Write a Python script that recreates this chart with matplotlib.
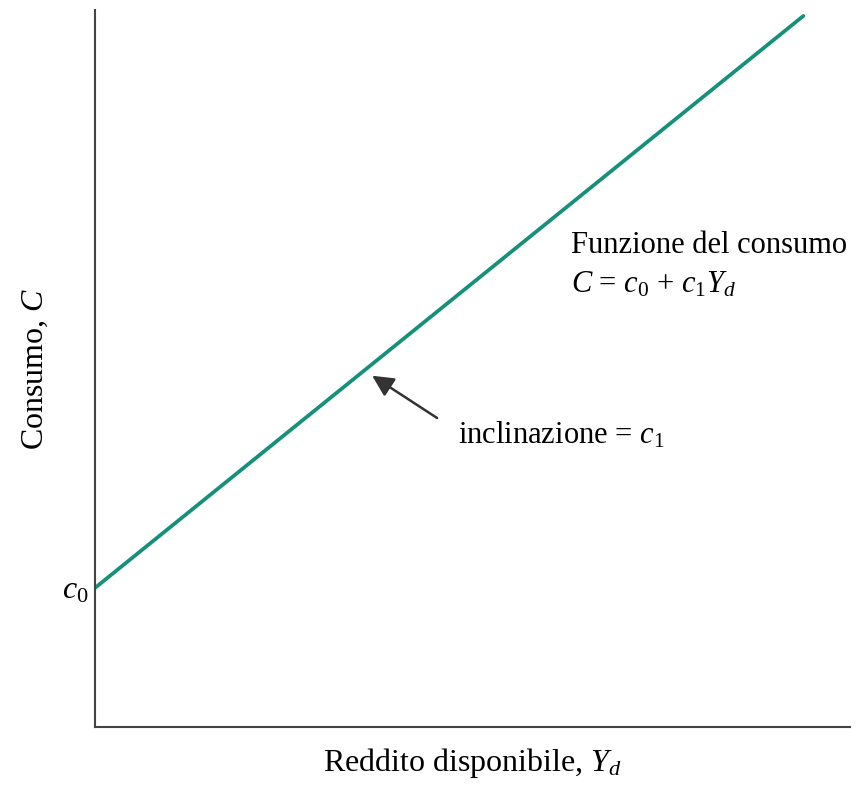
import matplotlib.pyplot as plt

plt.rcParams['font.family'] = ['Liberation Serif', 'DejaVu Serif']
plt.rcParams['mathtext.fontset'] = 'custom'
plt.rcParams['mathtext.rm'] = 'Liberation Serif'
plt.rcParams['mathtext.it'] = 'Liberation Serif:italic'

# consumption function endpoints (axes run 0..1)
income = [0.0, 0.938]
consumption = [0.194, 0.992]
c0_level = 0.194

# arrow pointing at the slope
arrow_tip = (0.367, 0.490)
arrow_tail = (0.453, 0.431)

fig = plt.figure(figsize=(8.64, 7.85), dpi=100)
ax = fig.add_axes([0.110, 0.074, 0.874, 0.913])

ax.plot(income, consumption, color='#17907a', lw=2.7, solid_capstyle='round')

ax.set_xlim(0, 1)
ax.set_ylim(0, 1)
for side in ['top', 'right']:
    ax.spines[side].set_visible(False)
for side in ['left', 'bottom']:
    ax.spines[side].set_color('#444444')
    ax.spines[side].set_linewidth(1.5)

ax.set_xticks([])
ax.set_yticks([c0_level])
ax.set_yticklabels([r'$c_0$'], fontsize=23)
ax.tick_params(axis='y', length=0, pad=5)

ax.set_xlabel(r'Reddito disponibile, $Y_d$', fontsize=23, labelpad=14)
ax.set_ylabel(r'Consumo, $C$', fontsize=23, labelpad=8)

ax.text(0.630, 0.672, 'Funzione del consumo', fontsize=22, va='center', ha='left')
ax.text(0.630, 0.617, r'$C$ = $c_0$ + $c_1Y_d$', fontsize=22, va='center', ha='left')

ax.annotate('', xy=arrow_tip, xytext=arrow_tail,
            arrowprops=dict(arrowstyle='-|>', color='#333333', lw=1.8,
                            mutation_scale=32, shrinkA=0, shrinkB=0))
ax.text(0.480, 0.407, r'inclinazione = $c_1$', fontsize=22, va='center', ha='left')

fig.savefig('out.png', dpi=100)
